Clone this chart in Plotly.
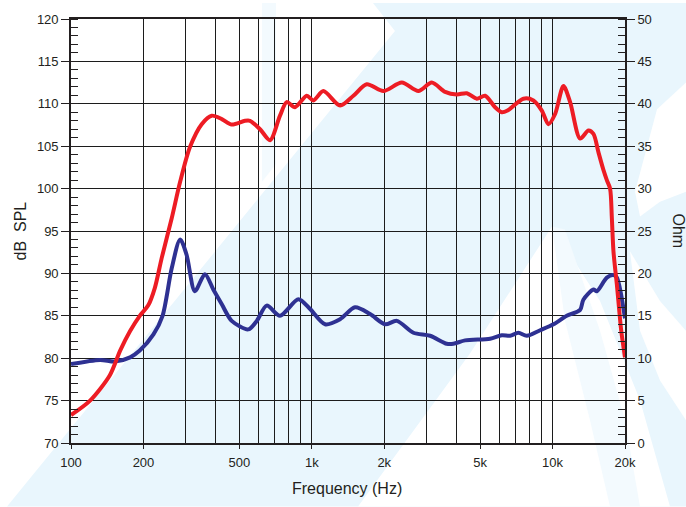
import plotly.graph_objects as go

# ---- data ----
spl_freq = [100, 120, 145, 160, 176, 193, 209, 223, 238, 262, 284, 312, 349, 384, 423, 465,
            528, 554, 610, 671, 738, 787, 852, 953, 1016, 1117, 1311, 1489, 1692, 1984, 2366,
            2773, 3151, 3580, 4004, 4406, 4848, 5248, 5773, 6155, 6500, 7570, 8330, 9027, 9614,
            10250, 11100, 11834, 13020, 14100, 14790, 15510, 16270, 16810, 17340, 17640, 17910,
            18500, 18780, 19300, 20000]
spl_db = [73.3, 75.0, 78.0, 80.9, 83.2, 85.0, 86.2, 88.3, 91.8, 96.5, 100.8, 104.9, 107.6, 108.6,
          108.2, 107.55, 108.0, 108.0, 107.0, 105.7, 108.6, 110.2, 109.6, 110.95, 110.4, 111.5,
          109.8, 110.95, 112.3, 111.5, 112.5, 111.5, 112.5, 111.4, 111.1, 111.25, 110.6, 110.95,
          109.6, 109.0, 109.2, 110.6, 110.4, 109.2, 107.6, 108.8, 112.1, 110.2, 105.9, 106.85,
          106.45, 104.3, 102.2, 101.0, 100.0, 96.5, 92.6, 88.7, 86.7, 83.2, 80.1]

imp_freq = [100, 132, 152, 176, 193, 220, 240, 262, 284, 302, 327, 360, 390, 423, 465, 545, 591,
            650, 738, 880, 984, 1136, 1311, 1513, 1747, 2017, 2256, 2643, 3101, 3637, 3874, 4335,
            5505, 6155, 6665, 7215, 7820, 8882, 10090, 11460, 13020, 13430, 14790, 15280, 16810,
            17910, 18500, 20000]
imp_ohm = [9.3, 9.8, 9.6, 10.1, 10.9, 12.8, 15.0, 20.6, 24.0, 22.2, 17.9, 19.9, 18.1, 16.35,
           14.4, 13.4, 14.4, 16.2, 15.0, 16.95, 15.8, 14.0, 14.6, 16.0, 15.2, 14.0, 14.4, 13.0,
           12.65, 11.7, 11.7, 12.1, 12.3, 12.7, 12.65, 13.0, 12.65, 13.3, 14.0, 15.0, 15.7, 16.9,
           18.1, 17.9, 19.5, 19.8, 19.5, 14.7]

x_tick_vals = [100, 200, 500, 1000, 2000, 5000, 10000, 20000]
x_tick_text = ["100", "200", "500", "1k", "2k", "5k", "10k", "20k"]
x_grid_vals = [m * d for d in (100, 1000, 10000) for m in range(1, 10)] + [20000]
db_ticks = list(range(70, 121, 5))
ohm_ticks = list(range(0, 51, 5))

# ---- layout geometry (pixels) ----
W, H = 686, 507
L, R, T, B = 71, 625, 16, 443
PW, PH = R - L, B - T

def px(x):
    return (x - L) / PW

def py(y):
    return (B - y) / PH

def poly(points):
    return "M " + " L ".join(f"{px(x):.4f},{py(y):.4f}" for x, y in points) + " Z"

LB = "rgb(233,246,253)"
LB2 = "rgb(243,250,254)"
shapes = [
    dict(type="path", xref="paper", yref="paper", layer="below", line_width=0, fillcolor=LB,
         path=poly([(373, 0), (686, 0), (686, 507), (7, 507), (395, 28)])),
    dict(type="path", xref="paper", yref="paper", layer="below", line_width=0, fillcolor=LB2,
         path=poly([(262, 0), (276, 0), (276, 162), (262, 180)])),
    # white inverted-V region lower right
    dict(type="path", xref="paper", yref="paper", layer="below", line_width=0, fillcolor="white",
         path=poly([(358, 507), (470, 353), (552, 225), (600, 300), (640, 400), (670, 507)])),
    # light band inside the white area
    dict(type="path", xref="paper", yref="paper", layer="below", line_width=0, fillcolor=LB2,
         path=poly([(552, 225), (565, 228), (600, 330), (625, 420), (640, 507), (610, 507), (590, 420), (565, 320)])),
    # right side white arcs
    dict(type="path", xref="paper", yref="paper", layer="below", line_width=0, fillcolor="white",
         path=poly([(657, 107), (686, 80), (686, 190), (660, 200), (640, 215), (635, 190)])),
    dict(type="path", xref="paper", yref="paper", layer="below", line_width=0, fillcolor="white",
         path=poly([(630, 250), (660, 300), (686, 330), (686, 420), (660, 380), (640, 330)])),
]

fig = go.Figure()
fig.add_trace(go.Scatter(x=imp_freq, y=imp_ohm, mode="lines", yaxis="y",
                         line=dict(color="#2e3192", width=4, shape="spline", smoothing=0.8),
                         showlegend=False, hoverinfo="skip"))
fig.add_trace(go.Scatter(x=spl_freq, y=spl_db, mode="lines", yaxis="y2",
                         line=dict(color="#ed1c24", width=4, shape="spline", smoothing=0.8),
                         showlegend=False, hoverinfo="skip"))

FONT = "Liberation Sans, Arial, sans-serif"
tickfont = dict(family=FONT, size=13, color="#231f20")
gridc = "#1c1c1c"
GW = 1.4

fig.update_layout(
    width=W, height=H,
    margin=dict(l=L, r=W - R, t=T, b=H - B, pad=0),
    paper_bgcolor="white", plot_bgcolor="rgba(0,0,0,0)",
    shapes=shapes,
    xaxis=dict(type="log", range=[2, 4.30103], tickvals=x_tick_vals, ticktext=x_tick_text,
               showgrid=True, gridcolor=gridc, gridwidth=GW,
               minor=dict(tickvals=x_grid_vals, showgrid=True, gridcolor=gridc, gridwidth=GW, ticks=""),
               ticks="outside", ticklen=4, tickcolor="#231f20", tickwidth=1.3,
               showline=True, linecolor="#231f20", linewidth=1.6, mirror=True,
               tickfont=tickfont, ticklabelstandoff=3, zeroline=False, fixedrange=True),
    yaxis=dict(side="right", range=[0, 50], tickvals=ohm_ticks,
               showgrid=True, gridcolor=gridc, gridwidth=GW,
               ticks="outside", ticklen=8, tickcolor="#231f20", tickwidth=1.3,
               minor=dict(dtick=1, ticks="inside", ticklen=7, tickcolor="#231f20", tickwidth=1.1, showgrid=False),
               showline=True, linecolor="#231f20", linewidth=1.6,
               tickfont=tickfont, zeroline=False, fixedrange=True),
    yaxis2=dict(side="left", overlaying="y", range=[70, 120], tickvals=db_ticks,
                showgrid=False,
                ticks="outside", ticklen=8, tickcolor="#231f20", tickwidth=1.3,
                minor=dict(dtick=1, ticks="inside", ticklen=7, tickcolor="#231f20", tickwidth=1.1, showgrid=False),
                showline=True, linecolor="#231f20", linewidth=1.6,
                tickfont=tickfont, zeroline=False, fixedrange=True),
    annotations=[
        dict(text="Frequency (Hz)", xref="paper", yref="paper", x=px(347), y=py(489),
             xanchor="center", yanchor="middle",
             showarrow=False, font=dict(family=FONT, size=16, color="#231f20")),
        dict(text="dB  SPL", xref="paper", yref="paper", x=px(20), y=py(230), textangle=-90,
             xanchor="center", yanchor="middle",
             showarrow=False, font=dict(family=FONT, size=16, color="#231f20")),
        dict(text="Ohm", xref="paper", yref="paper", x=px(678), y=py(229), textangle=90,
             xanchor="center", yanchor="middle",
             showarrow=False, font=dict(family=FONT, size=16, color="#231f20")),
    ],
)

fig.write_html("out.html", config={"displayModeBar": False},
               post_script="document.body.style.margin='0';document.body.style.overflow='hidden';")
